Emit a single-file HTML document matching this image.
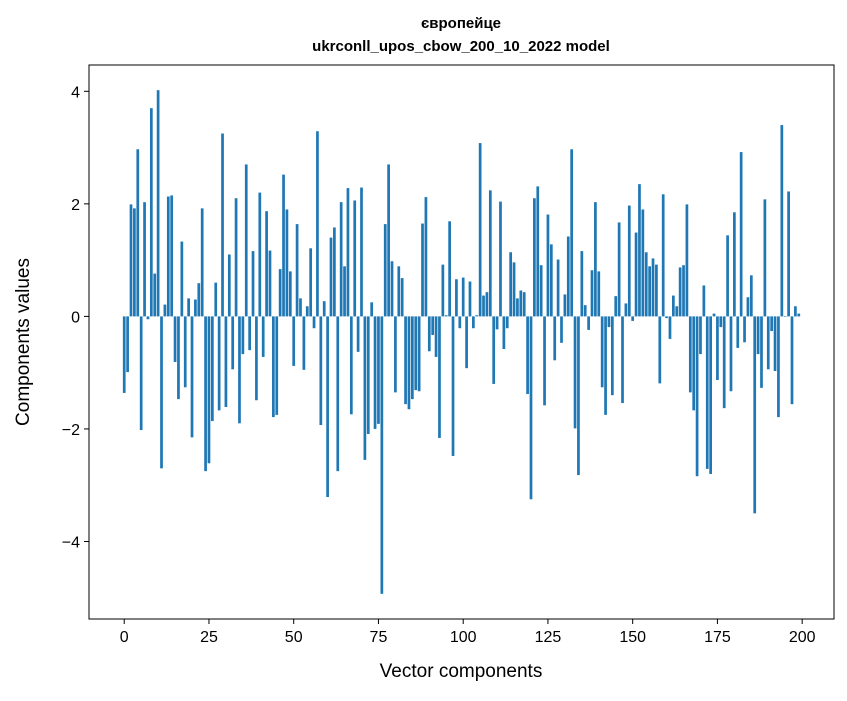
<!DOCTYPE html>
<html><head><meta charset="utf-8"><style>
body{margin:0;background:#fff}
svg text{font-family:"Liberation Sans","DejaVu Sans",sans-serif;fill:#000}
</style></head><body>
<svg id="chart" width="847" height="696">
<rect width="847" height="696" fill="#fff"/>
<text x="461" y="28" font-size="15" font-weight="bold" text-anchor="middle">європейце</text>
<text x="461" y="51" font-size="15" font-weight="bold" text-anchor="middle">ukrconll_upos_cbow_200_10_2022 model</text>
<g id="bars"></g>
<g id="axes"></g>
<rect x="89" y="65" width="745" height="554" fill="none" stroke="#000" stroke-width="1"/>
<text x="461" y="677" font-size="19" text-anchor="middle">Vector components</text>
<text transform="translate(29,342) rotate(-90)" font-size="19" text-anchor="middle">Components values</text>
</svg>
<script>
const values = [-1.36,-0.99,1.99,1.92,2.97,-2.02,2.03,-0.05,3.70,0.76,4.02,-2.70,0.21,2.13,2.15,-0.81,-1.47,1.33,-1.26,0.32,
-2.15,0.30,0.59,1.92,-2.75,-2.61,-1.86,0.60,-1.67,3.25,-1.61,1.10,-0.94,2.10,-1.90,-0.67,2.70,-0.60,1.16,-1.49,
2.20,-0.72,1.87,1.17,-1.79,-1.75,0.84,2.52,1.90,0.80,-0.88,1.64,0.32,-0.95,0.18,1.21,-0.21,3.29,-1.93,0.27,
-3.21,1.40,1.58,-2.75,2.03,0.89,2.28,-1.74,2.06,-0.63,2.29,-2.55,-2.09,0.25,-2.00,-1.91,-4.93,1.64,2.70,0.98,
-1.35,0.89,0.68,-1.56,-1.65,-1.47,-1.31,-1.33,1.65,2.12,-0.62,-0.33,-0.72,-2.16,0.92,0.02,1.69,-2.48,0.66,-0.21,
0.69,-0.92,0.62,-0.21,0.02,3.08,0.37,0.43,2.24,-1.20,-0.23,2.04,-0.58,-0.21,1.14,0.96,0.32,0.46,0.43,-1.38,
-3.25,2.10,2.31,0.91,-1.58,1.81,1.28,-0.78,1.01,-0.47,0.39,1.42,2.97,-1.99,-2.82,1.16,0.20,-0.24,0.82,2.03,
0.80,-1.26,-1.75,-0.19,-1.40,0.36,1.67,-1.54,0.23,1.97,-0.08,1.49,2.35,1.90,1.14,0.89,1.03,0.92,-1.19,2.17,
-0.03,-0.40,0.37,0.18,0.87,0.91,1.99,-1.35,-1.67,-2.84,-0.67,0.55,-2.71,-2.80,0.05,-1.13,-0.19,-1.63,1.44,-1.33,
1.85,-0.56,2.92,-0.46,0.34,0.73,-3.50,-0.67,-1.27,2.08,-0.94,-0.26,-0.97,-1.79,3.40,-0.01,2.22,-1.56,0.18,0.05];
const xTicks = [0,25,50,75,100,125,150,175,200];
const yTicks = [-4,-2,0,2,4];

const L=89,R=834,T=65,B=619;
const n=values.length;
const x0=-0.4,x1=n-1+0.4,xm=(x1-x0)*0.05;
const xs=v=>L+(v-(x0-xm))/((x1+xm)-(x0-xm))*(R-L);
const mn=Math.min(0,...values),mx=Math.max(0,...values),ym=(mx-mn)*0.05;
const ys=v=>B-(v-(mn-ym))/((mx+ym)-(mn-ym))*(B-T);
const NS='http://www.w3.org/2000/svg';
const bars=document.getElementById('bars');
values.forEach((v,i)=>{
  const r=document.createElementNS(NS,'rect');
  const a=xs(i-0.4),b=xs(i+0.4);
  r.setAttribute('x',a);r.setAttribute('width',b-a);
  r.setAttribute('y',Math.min(ys(v),ys(0)));
  r.setAttribute('height',Math.abs(ys(v)-ys(0)));
  r.setAttribute('fill','#1f77b4');
  
  
  bars.appendChild(r);
});
const ax=document.getElementById('axes');
xTicks.forEach(t=>{
  const X=xs(t);
  const l=document.createElementNS(NS,'line');
  l.setAttribute('x1',X);l.setAttribute('x2',X);l.setAttribute('y1',B);l.setAttribute('y2',B+5);
  l.setAttribute('stroke','#000');
  
  
  ax.appendChild(l);
  const tx=document.createElementNS(NS,'text');
  tx.setAttribute('x',X);tx.setAttribute('y',B+23);tx.setAttribute('font-size','16');tx.setAttribute('text-anchor','middle');
  tx.textContent=t;
  
  
  ax.appendChild(tx);
});
yTicks.forEach(t=>{
  const Y=ys(t);
  const l=document.createElementNS(NS,'line');
  l.setAttribute('x1',L-5);l.setAttribute('x2',L);l.setAttribute('y1',Y);l.setAttribute('y2',Y);
  l.setAttribute('stroke','#000');
  
  
  ax.appendChild(l);
  const tx=document.createElementNS(NS,'text');
  tx.setAttribute('x',L-9);tx.setAttribute('y',Y+6);tx.setAttribute('font-size','16');tx.setAttribute('text-anchor','end');
  tx.textContent=t<0?'\u2212'+(-t):String(t);
  
  
  ax.appendChild(tx);
});
</script>
</body></html>
